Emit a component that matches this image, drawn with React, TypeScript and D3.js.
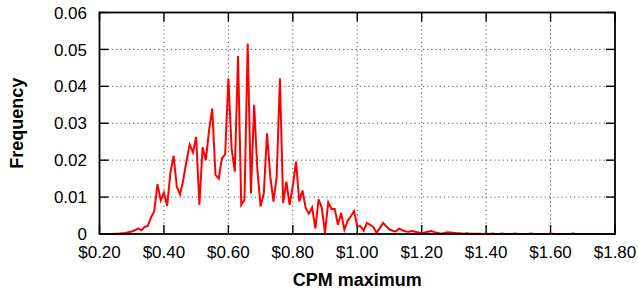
import React from "react";
import * as d3 from "d3";

const cpm: number[] = [
  0.23, 0.24, 0.25, 0.26, 0.27, 0.28, 0.29,
  0.30, 0.31, 0.32, 0.33, 0.34, 0.35, 0.36, 0.37, 0.38, 0.39,
  0.40, 0.41, 0.42, 0.43, 0.44, 0.45, 0.46, 0.47, 0.48, 0.49,
  0.50, 0.51, 0.52, 0.53, 0.54, 0.55, 0.56, 0.57, 0.58, 0.59,
  0.60, 0.61, 0.62, 0.63, 0.64, 0.65, 0.66, 0.67, 0.68, 0.69,
  0.70, 0.71, 0.72, 0.73, 0.74, 0.75, 0.76, 0.77, 0.78, 0.79,
  0.80, 0.81, 0.82, 0.83, 0.84, 0.85, 0.86, 0.87, 0.88, 0.89,
  0.90, 0.91, 0.92, 0.93, 0.94, 0.95, 0.96, 0.97, 0.98, 0.99,
  1.00, 1.01, 1.02, 1.03, 1.04, 1.05, 1.06, 1.07, 1.08, 1.09,
  1.10, 1.11, 1.12, 1.13, 1.14, 1.15, 1.16, 1.17, 1.18, 1.19,
  1.20, 1.21, 1.22, 1.23, 1.24, 1.25, 1.26, 1.27, 1.28, 1.29,
  1.30, 1.31, 1.32, 1.33, 1.34, 1.35, 1.36, 1.37, 1.38, 1.39,
  1.40, 1.41, 1.42, 1.43, 1.44, 1.45, 1.46, 1.47, 1.48, 1.49,
  1.50, 1.51, 1.52, 1.53, 1.54, 1.55, 1.56, 1.57, 1.58, 1.59,
  1.60, 1.61, 1.62, 1.63, 1.64, 1.65, 1.66, 1.67, 1.68, 1.69,
  1.70, 1.71, 1.72, 1.73, 1.74, 1.75, 1.76, 1.77,
];

const frequency: number[] = [
  0, 0, 0.0001, 0.0001, 0.0002, 0.0003, 0.0005,
  0.0007, 0.001, 0.0015, 0.001, 0.0019, 0.0022, 0.0045, 0.0062, 0.0135, 0.0091,
  0.0112, 0.0076, 0.0165, 0.0212, 0.0128, 0.0107, 0.0147, 0.0197, 0.0242, 0.0221,
  0.0263, 0.0079, 0.0235, 0.02, 0.028, 0.034, 0.016, 0.015, 0.0205, 0.0216,
  0.0422, 0.0232, 0.0169, 0.0482, 0.0079, 0.0093, 0.0516, 0.011, 0.035, 0.0174,
  0.0075, 0.011, 0.0273, 0.0156, 0.0088, 0.0156, 0.0422, 0.0084, 0.0142, 0.0079,
  0.013, 0.0196, 0.0088, 0.0118, 0.007, 0.0055, 0.0072, 0.0015, 0.0094, 0.0071,
  0.0003, 0.0086, 0.0068, 0.0068, 0.0025, 0.0057, 0.0012, 0.0035, 0.0048, 0.0062,
  0.0021, 0.0021, 0.0009, 0.003, 0.0025, 0.0019, 0.0003, 0.0016, 0.003, 0.0021,
  0.0012, 0.0009, 0.0007, 0.0015, 0.001, 0.0007, 0.0006, 0.0008, 0.0006, 0.0004,
  0.0002, 0.0004, 0.0006, 0.0008, 0.0005, 0.0003, 0.0001, 0.0003, 0.0005, 0.0004,
  0.0003, 0.0002, 0.0002, 0.0001, 0.0002, 0.0001, 0.0001, 0.0001, 0.0001, 0,
  0.0001, 0, 0.0001, 0, 0, 0.0001, 0, 0, 0, 0.0001,
  0, 0, 0, 0, 0.0001, 0, 0, 0, 0, 0,
  0.0001, 0, 0, 0, 0, 0, 0, 0.0001, 0, 0,
  0, 0, 0, 0, 0, 0, 0, 0,
];

const xTicks: number[] = [0.2, 0.4, 0.6, 0.8, 1.0, 1.2, 1.4, 1.6, 1.8];
const yTicks: number[] = [0, 0.01, 0.02, 0.03, 0.04, 0.05, 0.06];

const xTitle = "CPM maximum";
const yTitle = "Frequency";

const W = 638;
const H = 293;
const left = 99.5;
const right = 615;
const top = 12.5;
const bottom = 234;
const FONT = "'Liberation Sans', Arial, Helvetica, sans-serif";

export default function App() {
  const x = d3.scaleLinear().domain([0.2, 1.8]).range([left, right]);
  const y = d3.scaleLinear().domain([0, 0.06]).range([bottom, top]);
  const pts: [number, number][] = cpm.map((c, i) => [c, frequency[i]]);
  const line = d3
    .line<[number, number]>()
    .x((d) => x(d[0]))
    .y((d) => y(d[1]));
  const tickLen = 9;
  const xfmt = (v: number) => "$" + d3.format(".2f")(v);
  const yfmt = (v: number) => (v === 0 ? "0" : d3.format(".2f")(v));

  return (
    <svg
      width={W}
      height={H}
      style={{ position: "absolute", left: 0, top: 0, background: "#fff" }}
    >
      {xTicks.slice(1, -1).map((t) => (
        <line
          key={"gx" + t}
          x1={x(t)}
          x2={x(t)}
          y1={top}
          y2={bottom}
          stroke="#555"
          strokeWidth={1}
          strokeDasharray="1.2,3"
        />
      ))}
      {yTicks.slice(1, -1).map((t) => (
        <line
          key={"gy" + t}
          x1={left}
          x2={right}
          y1={y(t)}
          y2={y(t)}
          stroke="#555"
          strokeWidth={1}
          strokeDasharray="1.2,3"
        />
      ))}
      {xTicks.map((t) => (
        <g key={"tx" + t}>
          <line x1={x(t)} x2={x(t)} y1={bottom} y2={bottom - tickLen} stroke="#000" strokeWidth={1.4} />
          <line x1={x(t)} x2={x(t)} y1={top} y2={top + tickLen} stroke="#000" strokeWidth={1.4} />
          <text
            x={x(t)}
            y={258}
            textAnchor="middle"
            fontFamily={FONT}
            fontSize={17}
            fill="#000"
          >
            {xfmt(t)}
          </text>
        </g>
      ))}
      {yTicks.map((t) => (
        <g key={"ty" + t}>
          <line x1={left} x2={left + tickLen} y1={y(t)} y2={y(t)} stroke="#000" strokeWidth={1.4} />
          <line x1={right} x2={right - tickLen} y1={y(t)} y2={y(t)} stroke="#000" strokeWidth={1.4} />
          <text
            x={87}
            y={y(t)}
            dy="0.36em"
            textAnchor="end"
            fontFamily={FONT}
            fontSize={17}
            fill="#000"
          >
            {yfmt(t)}
          </text>
        </g>
      ))}
      <path
        d={line(pts) || ""}
        fill="none"
        stroke="#ff0000"
        strokeWidth={2}
        strokeLinejoin="miter"
      />
      <rect
        x={left}
        y={top}
        width={right - left}
        height={bottom - top}
        fill="none"
        stroke="#000"
        strokeWidth={1.8}
      />
      <text
        x={(left + right) / 2}
        y={286}
        textAnchor="middle"
        fontFamily={FONT}
        fontSize={18}
        fontWeight="bold"
        fill="#000"
      >
        {xTitle}
      </text>
      <text
        transform={`translate(23,${(top + bottom) / 2}) rotate(-90)`}
        textAnchor="middle"
        fontFamily={FONT}
        fontSize={18}
        fontWeight="bold"
        fill="#000"
      >
        {yTitle}
      </text>
    </svg>
  );
}
